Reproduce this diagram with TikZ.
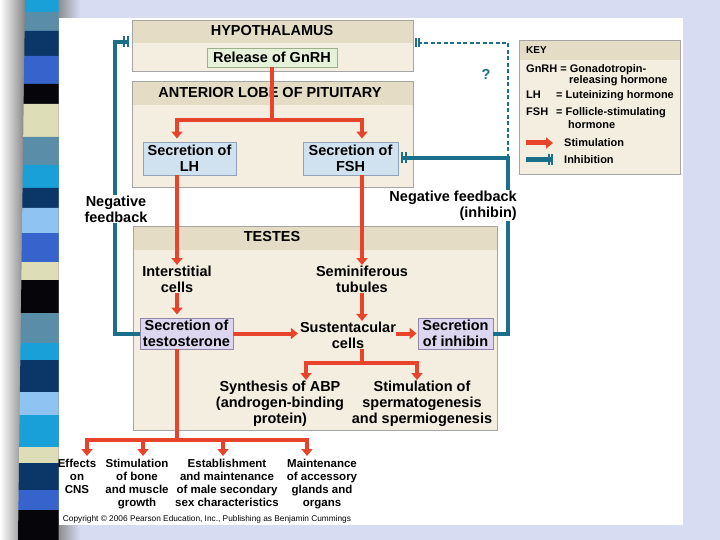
\documentclass[tikz,border=0pt]{standalone}
\usepackage{fontspec}
\setmainfont{Liberation Sans}
\usetikzlibrary{calc,arrows.meta}
\definecolor{slide}{RGB}{215,220,243}
\definecolor{stimred}{RGB}{232,67,43}
\definecolor{inhteal}{RGB}{28,111,138}
\definecolor{bandbeige}{RGB}{228,220,196}
\definecolor{bodybeige}{RGB}{244,238,224}
\definecolor{rimgray}{RGB}{165,165,165}
\definecolor{lhblue}{RGB}{208,226,239}
\definecolor{lhrim}{RGB}{143,164,184}
\definecolor{gnrhgreen}{RGB}{229,242,217}
\definecolor{gnrhrim}{RGB}{156,176,140}
\definecolor{tlav}{RGB}{220,214,238}
\definecolor{tlavrim}{RGB}{143,136,168}
\definecolor{sa}{RGB}{26,160,216}
\definecolor{sb}{RGB}{90,142,168}
\definecolor{sc}{RGB}{10,54,104}
\definecolor{sd}{RGB}{54,100,204}
\definecolor{se}{RGB}{221,221,184}
\definecolor{sf}{RGB}{142,195,242}
\definecolor{sg}{RGB}{5,5,10}

\begin{document}
\begin{tikzpicture}[x=1pt,y=-1pt,
  region/.style={draw=rimgray,fill=bodybeige,line width=0.8pt,inner sep=0pt,
    path picture={\fill[bandbeige] (path picture bounding box.north west) rectangle ([yshift=-#1]path picture bounding box.north east);}},
  region/.default=23pt,
  title/.style={font=\fontsize{14.5}{16}\selectfont\bfseries,inner sep=0pt},
  txt/.style={align=center,font=\fontsize{14.5}{16}\selectfont\bfseries,inner sep=0pt},
  box/.style={txt,line width=0.9pt},
  small/.style={align=center,font=\fontsize{11.5}{13}\selectfont\bfseries,inner sep=0pt,anchor=north},
  keytxt/.style={font=\fontsize{11}{11}\selectfont\bfseries,inner sep=0pt,anchor=base west},
  fb/.style={txt,fill=white,inner sep=1pt},
  redline/.style={draw=stimred,line width=4pt},
  stim/.style={redline,-{Triangle[length=7pt,width=11pt]},shorten >=3pt},
  inh/.style={draw=inhteal,line width=4pt,shorten >=3pt,
    -{Bar[width=11pt,line width=1.8pt,sep=1.6pt]Bar[width=11pt,line width=1.8pt]}},
  inhdash/.style={draw=inhteal,line width=1.5pt,dash pattern=on 4pt off 2.5pt,shorten >=2pt,
    -{Bar[width=9pt,line width=1.4pt,sep=1.6pt]Bar[width=9pt,line width=1.4pt]}}]
\useasboundingbox (0,0) rectangle (720,540);
\fill[slide] (0,0) rectangle (720,540);
\shade[left color=white,right color=black!50] (0,0) rectangle (26,540);
\shade[left color=black!45,right color=slide] (58,0) rectangle (80,540);
\foreach \a/\b/\c in {0/12/sa,12/31/sb,31/56/sc,56/84/sd,84/104/sg,104/137/se,137/165/sb,
  165/188/sa,188/208/sc,208/233/sf,233/262/sd,262/280/se,280/313/sg,313/343/sb,343/360/sa,
  360/392/sc,392/415/sf,415/447/sa,447/463/se,463/490/sc,490/510/sd,510/540/sg}
  \fill[\c] ({25-7*\a/540},\a) -- (58.5,\a) -- (58.5,\b) -- ({25-7*\b/540},\b) -- cycle;
\fill[white] (58.5,18) rectangle (683,525);

\node[region,minimum width=281pt,minimum height=51pt] (hypo) at (272.5,45.5) {};
\node[title] (hypot) at (272,31) {HYPOTHALAMUS};
\node[box,fill=gnrhgreen,draw=gnrhrim,minimum width=130pt,minimum height=19pt] (gnrh) at (272,57.5) {Release of GnRH};
\node[region=24pt,minimum width=281pt,minimum height=106pt] (ant) at (272.5,134) {};
\node[title] (antt) at (270,93) {ANTERIOR LOBE OF PITUITARY};
\node[box,fill=lhblue,draw=lhrim,minimum width=93pt,minimum height=33pt] (lh) at (189.5,158.5) {Secretion of\\LH};
\node[box,fill=lhblue,draw=lhrim,minimum width=95pt,minimum height=33pt] (fsh) at (350.5,158.5) {Secretion of\\FSH};
\node[region=24pt,minimum width=364pt,minimum height=204pt] (test) at (315,328) {};
\node[title] (testt) at (272,237) {TESTES};
\node[txt,anchor=north] (inter) at (177,266) {Interstitial\\cells};
\node[txt,anchor=north] (semi) at (362,266) {Seminiferous\\tubules};
\node[box,fill=tlav,draw=tlavrim,minimum width=93pt,minimum height=31pt] (testo) at (186.5,333.5) {Secretion of\\testosterone};
\node[txt] (sust) at (348,335.5) {Sustentacular\\cells};
\node[box,fill=tlav,draw=tlavrim,minimum width=75pt,minimum height=31pt] (inhib) at (455.5,333.5) {Secretion\\of inhibin};
\node[txt,anchor=north] (abp) at (280,381) {Synthesis of ABP\\(androgen-binding\\protein)};
\node[txt,anchor=north] (sperm) at (422,381) {Stimulation of\\spermatogenesis\\and spermiogenesis};
\node[small] (cns) at (77,459) {Effects\\on\\CNS};
\node[small] (bone) at (137,459) {Stimulation\\of bone\\and muscle\\growth};
\node[small] (sexc) at (227,459) {Establishment\\and maintenance\\of male secondary\\sex characteristics};
\node[small] (glands) at (322,459) {Maintenance\\of accessory\\glands and\\organs};
\node[font=\fontsize{8.3}{9}\selectfont,inner sep=0pt] (copy) at (207,519) {Copyright © 2006 Pearson Education, Inc., Publishing as Benjamin Cummings};

\coordinate (fork1) at (272,120);
\coordinate (fork2) at (362,363);
\coordinate (fork3) at (177,440);
\draw[redline] (gnrh.south) -- (fork1);
\draw[stim] (fork1) -| ([xshift=-12.5pt]lh.north);
\draw[stim] (fork1) -| ([xshift=11.5pt]fsh.north);
\draw[stim,shorten >=1pt] ([xshift=-12.5pt]lh.south) -- (inter.north);
\draw[stim,shorten >=1pt] ([xshift=11.5pt]fsh.south) -- (semi.north);
\draw[stim] (inter.south) -- ([xshift=-9.5pt]testo.north);
\draw[stim,shorten >=1pt] (semi.south) -- ([xshift=14pt]sust.north);
\draw[stim,shorten >=2pt] (testo.east) -- (testo.east -| sust.west);
\draw[stim,shorten >=1pt] (sust.east |- inhib.west) -- (inhib.west);
\draw[redline] ([xshift=14pt]sust.south) -- (fork2);
\draw[stim,shorten >=1pt] (fork2) -| ([xshift=26pt]abp.north);
\draw[stim,shorten >=1pt] (fork2) -| ([xshift=-5pt]sperm.north);
\draw[redline] ([xshift=-9.5pt]testo.south) -- (fork3);
\foreach \n/\s in {cns/10,bone/6,sexc/-4,glands/-15}
  \draw[stim] (fork3) -| ([xshift=\s pt]\n.north);

\coordinate (nl) at (115,42);
\coordinate (nr) at (508,158);
\coordinate (nq) at (508,43);
\draw[inh] (testo.west) -| (nl) -- (nl -| hypo.west);
\draw[inh] (inhib.east) -| (nr) -- (nr -| fsh.east);
\draw[inhdash] (nr) -- (nq) -- (nq -| hypo.east);
\node[fb] (nfl) at (116,209) {Negative\\feedback};
\node[fb,align=right,anchor=east] (nfr) at (518,205.5) {Negative feedback\\(inhibin)};
\node[txt,text=inhteal] (qm) at (486,74) {?};

\node[region=20pt,minimum width=161pt,minimum height=134pt] (key) at (599.5,107) {};
\node[font=\fontsize{10}{10}\selectfont\bfseries,anchor=west,inner sep=0pt] (keyt) at (526,50) {KEY};
\node[keytxt] (kg) at (526,73) {GnRH = Gonadotropin-};
\node[keytxt] (kg2) at (569,84) {releasing hormone};
\node[keytxt] (kl) at (526,99) {LH};
\node[keytxt] (kl2) at (556,99) {= Luteinizing hormone};
\node[keytxt] (kf) at (526,116) {FSH};
\node[keytxt] (kf2) at (556,116) {= Follicle-stimulating};
\node[keytxt] (kf3) at (568,129) {hormone};
\node[keytxt] (kst) at (564,147) {Stimulation};
\node[keytxt] (kin) at (564,164) {Inhibition};
\coordinate (ka) at (526,143);
\coordinate (kb) at (526,160);
\draw[stim,line width=5pt,shorten >=11pt] (ka) -- (ka -| kst.west);
\draw[inh,line width=5pt,shorten >=11pt] (kb) -- (kb -| kin.west);
\end{tikzpicture}
\end{document}
